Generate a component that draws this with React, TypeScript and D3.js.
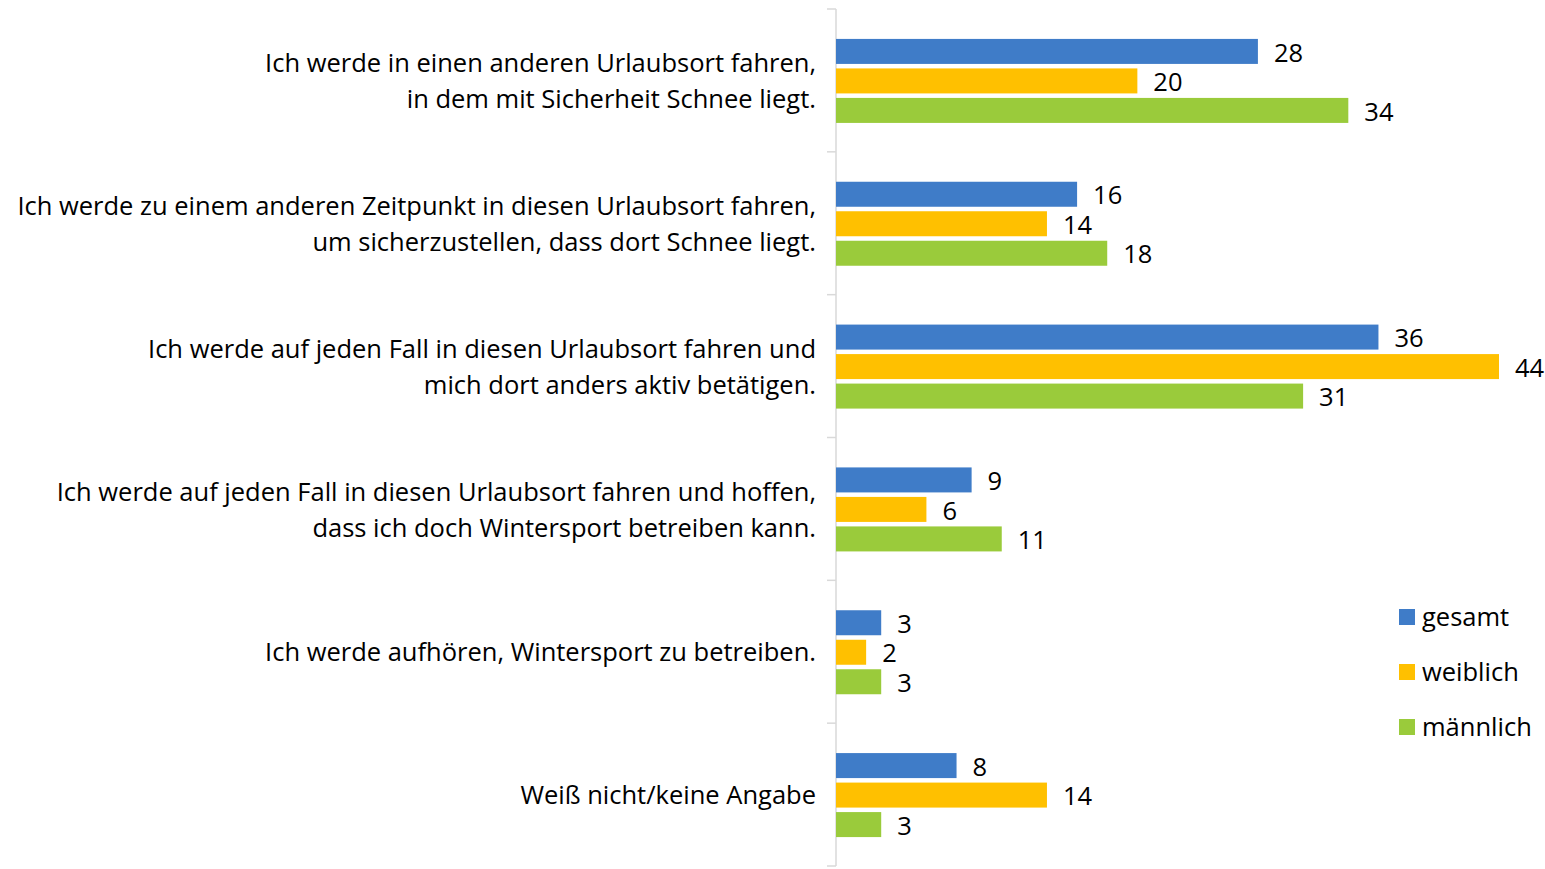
import React from "react";
import * as d3 from "d3";

const categories: string[][] = [
  ["Ich werde in einen anderen Urlaubsort fahren,", "in dem mit Sicherheit Schnee liegt."],
  ["Ich werde zu einem anderen Zeitpunkt in diesen Urlaubsort fahren,", "um sicherzustellen, dass dort Schnee liegt."],
  ["Ich werde auf jeden Fall in diesen Urlaubsort fahren und", "mich dort anders aktiv betätigen."],
  ["Ich werde auf jeden Fall in diesen Urlaubsort fahren und hoffen,", "dass ich doch Wintersport betreiben kann."],
  ["Ich werde aufhören, Wintersport zu betreiben."],
  ["Weiß nicht/keine Angabe"],
];
const seriesNames = ["gesamt", "weiblich", "männlich"];
const gesamt = [28, 16, 36, 9, 3, 8];
const weiblich = [20, 14, 44, 6, 2, 14];
const maennlich = [34, 18, 31, 11, 3, 3];
const seriesValues = [gesamt, weiblich, maennlich];
const colors = ["#3F7CC8", "#FFC000", "#9ACB3B"];

const W = 1545;
const H = 869;
const FONT = "'Open Sans', sans-serif";

export default function App() {
  const x0 = 836;
  const x = d3.scaleLinear().domain([0, 44]).range([x0, 1499]);
  const y = d3
    .scaleBand<number>()
    .domain(categories.map((_, i) => i))
    .range([9, 866])
    .paddingInner(0)
    .paddingOuter(0);
  const barH = 25;
  const step = 29.5;
  const fs = 25.5;
  const lineGap = 36;

  return (
    <svg
      width={W}
      height={H}
      style={{ position: "absolute", left: 0, top: 0, background: "#fff" }}
      fontFamily={FONT}
    >
      <line x1={x0} x2={x0} y1={9} y2={866} stroke="#D9D9D9" strokeWidth={1.5} />
      {categories.map((_, i) => (
        <line key={"t" + i} x1={827} x2={x0} y1={y(i)!} y2={y(i)!} stroke="#D9D9D9" strokeWidth={1.5} />
      ))}
      <line x1={827} x2={x0} y1={866} y2={866} stroke="#D9D9D9" strokeWidth={1.5} />

      {categories.map((lines, i) => {
        const c = y(i)! + y.bandwidth() / 2 + 0.5;
        return (
          <g key={"c" + i}>
            {lines.map((ln, j) => (
              <text
                key={j}
                x={816}
                y={c + (j - (lines.length - 1) / 2) * lineGap}
                dy="0.36em"
                textAnchor="end"
                fontSize={fs}
                fill="#000"
              >
                {ln}
              </text>
            ))}
            {seriesValues.map((vals, s) => {
              const by = c + (s - 1) * step - barH / 2;
              return (
                <g key={s}>
                  <rect x={x0} y={by} width={x(vals[i]) - x0} height={barH} fill={colors[s]} />
                  <text
                    x={x(vals[i]) + 16}
                    y={by + barH / 2 + 1}
                    dy="0.36em"
                    fontSize={fs}
                    fill="#000"
                  >
                    {vals[i]}
                  </text>
                </g>
              );
            })}
          </g>
        );
      })}

      {seriesNames.map((n, s) => (
        <g key={n} transform={`translate(1399, ${617 + s * 55})`}>
          <rect x={0} y={-8} width={16} height={16} fill={colors[s]} />
          <text x={23} y={0} dy="0.36em" fontSize={fs} fill="#000">
            {n}
          </text>
        </g>
      ))}
    </svg>
  );
}
